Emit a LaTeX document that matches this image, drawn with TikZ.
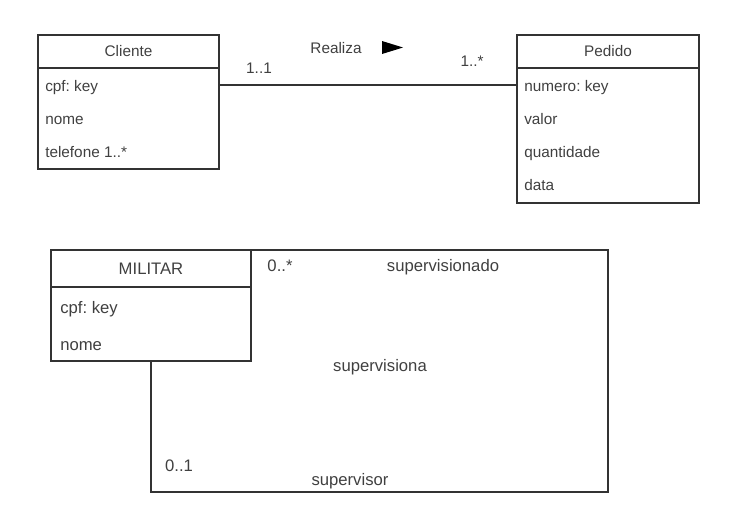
\documentclass[tikz,border=0pt]{standalone}
\usepackage{fontspec}
\setmainfont{Liberation Sans}
\frenchspacing
\usetikzlibrary{positioning}
\definecolor{linegray}{HTML}{333333}
\definecolor{textgray}{HTML}{404040}

\tikzset{
  box/.style={draw=linegray, line width=1pt, inner sep=0pt, outer sep=0pt},
  attr/.style={anchor=base west, inner sep=0pt, text=textgray},
  lbl/.style={anchor=base, inner sep=0pt, text=textgray},
  assoc/.style={draw=linegray, line width=1pt}
}

\begin{document}
\begin{tikzpicture}[x=0.75pt,y=-0.75pt,font=\fontsize{11.5}{13}\selectfont]
  \useasboundingbox (0,0) rectangle (741,515);

  % Cliente
  \node[box, anchor=north west, minimum width=135.75pt, minimum height=24.75pt, text=textgray] (cliente) at (38,35) {Cliente};
  \node[box, below=0pt of cliente, minimum width=135.75pt, minimum height=75.75pt] (clienteBody) {};
  \foreach \t [count=\i] in {cpf: key, nome, telefone 1..*}
  \node[attr] (cli\i) at (45,58.5+33*\i) {\t};

  % Pedido
  \node[box, anchor=north west, minimum width=136.5pt, minimum height=24.75pt, text=textgray] (pedido) at (517,35) {Pedido};
  \node[box, below=0pt of pedido, minimum width=136.5pt, minimum height=101.25pt] (pedidoBody) {};
  \foreach \t [count=\i] in {numero: key, valor, quantidade, data}
  \node[attr] (ped\i) at (524,58.5+33*\i) {\t};

  % Realiza
  \coordinate (lineL) at (219,85);
  \draw[assoc] (lineL -| clienteBody.east) -- (lineL -| pedidoBody.west);
  \node[lbl] (realiza) at (336,53.5) {Realiza};
  \fill[black] (382,41) -- (403,47.5) -- (382,54) -- cycle;
  \node[lbl] (multCli) at (259,73.5) {1..1};
  \node[lbl] (multPed) at (472,66.5) {1..*};

  % MILITAR
  \begin{scope}[font=\fontsize{12.5}{14}\selectfont]
  \node[box, anchor=north west, minimum width=150pt, minimum height=27.75pt, text=textgray] (militar) at (51,250) {MILITAR};
  \node[box, below=0pt of militar, minimum width=150pt, minimum height=55.5pt] (militarBody) {};
  \foreach \t [count=\i] in {cpf: key, nome}
  \node[attr] (mil\i) at (60,276+37*\i) {\t};

  % supervisiona
  \coordinate (selfTR) at (608,250);
  \coordinate (selfBR) at (608,492);
  \draw[assoc] (militar.north east) -- (selfTR) -- (selfBR) -- (selfBR -| militarBody.south) -- (militarBody.south);
  \node[lbl] (multSup) at (280,271) {0..*};
  \node[lbl] (supervisionado) at (443,271) {supervisionado};
  \node[lbl] (supervisiona) at (380,371) {supervisiona};
  \node[lbl] (multSor) at (179,471) {0..1};
  \node[lbl] (supervisor) at (350,485) {supervisor};
  \end{scope}

\end{tikzpicture}
\end{document}
